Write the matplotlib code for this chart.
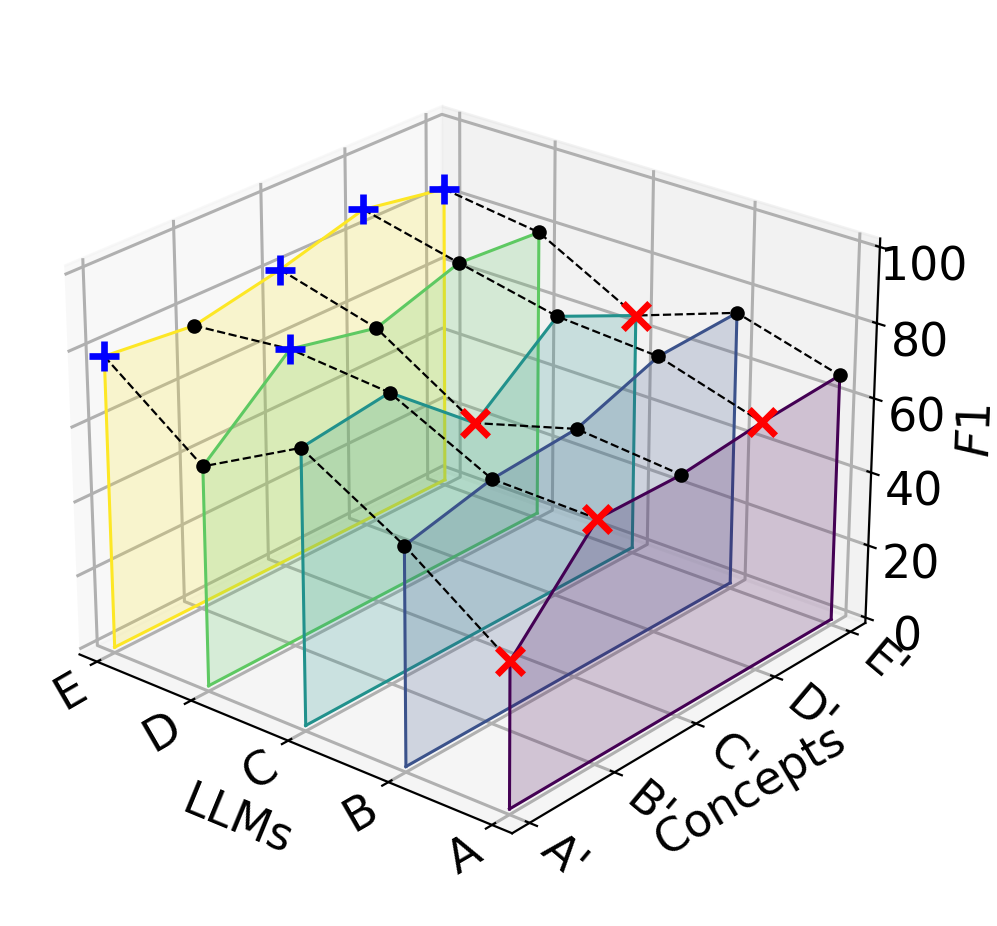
import numpy as np
import matplotlib
matplotlib.use("Agg")
import matplotlib.pyplot as plt
from mpl_toolkits.mplot3d.art3d import Poly3DCollection

llms = ["E", "D", "C", "B", "A"]
concepts = ["A'", "B'", "C'", "D'", "E'"]

# F1 per concept, one list per LLM
f1_e = [78.4, 75.9, 80.6, 86.9, 82.8]
f1_d = [58.8, 78.6, 73.6, 80.8, 79.1]
f1_c = [73.1, 76.3, 57.3, 75.1, 64.9]
f1_b = [57.8, 63.3, 65.1, 73.3, 74.4]
f1_a = [38.5, 62.8, 62.6, 65.1, 66.6]
f1 = np.array([f1_e, f1_d, f1_c, f1_b, f1_a])

colors = ["#fde725", "#5ec962", "#21918c", "#3b528b", "#440154"]

fig = plt.figure(figsize=(4.985, 4.63), dpi=200)
ax = fig.add_axes([0.0216, 0.0254, 0.8857, 0.9536], projection="3d", computed_zorder=False)
ax.view_init(elev=25, azim=-50)

xs = np.arange(len(llms))
ys = np.arange(len(concepts))

# one shaded wall for each llm
for i in xs:
    verts = [(i, ys[0], 0)] + [(i, y, v) for y, v in zip(ys, f1[i])] + [(i, ys[-1], 0)]
    ax.add_collection3d(Poly3DCollection([verts], facecolor=colors[i], alpha=0.2, edgecolor="none", zorder=1 + i))
    ax.plot([i] * 7, [ys[0], *ys, ys[-1]], [0, *f1[i], 0], color=colors[i], lw=1.1, zorder=1 + i)
    ax.plot([i, i], [ys[0], ys[-1]], [0, 0], color=colors[i], lw=1.1, zorder=1 + i)

# dashed line per concept, best and worst llm marked
for j in ys:
    ax.plot(xs, [j] * 5, f1[:, j], color="k", ls="--", lw=0.8, zorder=10)
    best = f1[:, j].argmax()
    worst = f1[:, j].argmin()
    rest = [i for i in xs if i not in (best, worst)]
    ax.scatter(rest, [j] * len(rest), f1[rest, j], color="k", s=18, zorder=11, depthshade=False)
    ax.scatter(best, j, f1[best, j], color="b", marker="+", s=120, linewidths=2.4, zorder=12, depthshade=False)
    ax.scatter(worst, j, f1[worst, j], color="r", marker="x", s=90, linewidths=2.4, zorder=12, depthshade=False)

ax.set_xlim(-0.19, 4.19)
ax.set_ylim(-0.2, 4.2)
ax.set_zlim(-1.5, 102.2)
ax.set_xticks(xs)
ax.set_xticklabels(llms, fontsize=16.5, rotation=30, ha="right")
ax.set_yticks(ys)
ax.set_yticklabels(concepts, fontsize=16.5, rotation=-40, ha="left")
ax.set_zticks([0, 20, 40, 60, 80, 100])
ax.tick_params(axis="x", pad=-7)
ax.tick_params(axis="y", pad=-7)
ax.tick_params(axis="z", labelsize=16.5, pad=1)
ax.xaxis.set_rotate_label(True)
ax.zaxis.set_rotate_label(True)
ax.set_xlabel("LLMs", fontsize=16.5, labelpad=1)
ax.set_ylabel("Concepts", fontsize=16.5, labelpad=-1)
ax.set_zlabel("$F1$", fontsize=16.5, labelpad=1)
for axis in (ax.xaxis, ax.yaxis, ax.zaxis):
    axis._axinfo["grid"]["linewidth"] = 1.1

fig.savefig("out.png", dpi=200)
